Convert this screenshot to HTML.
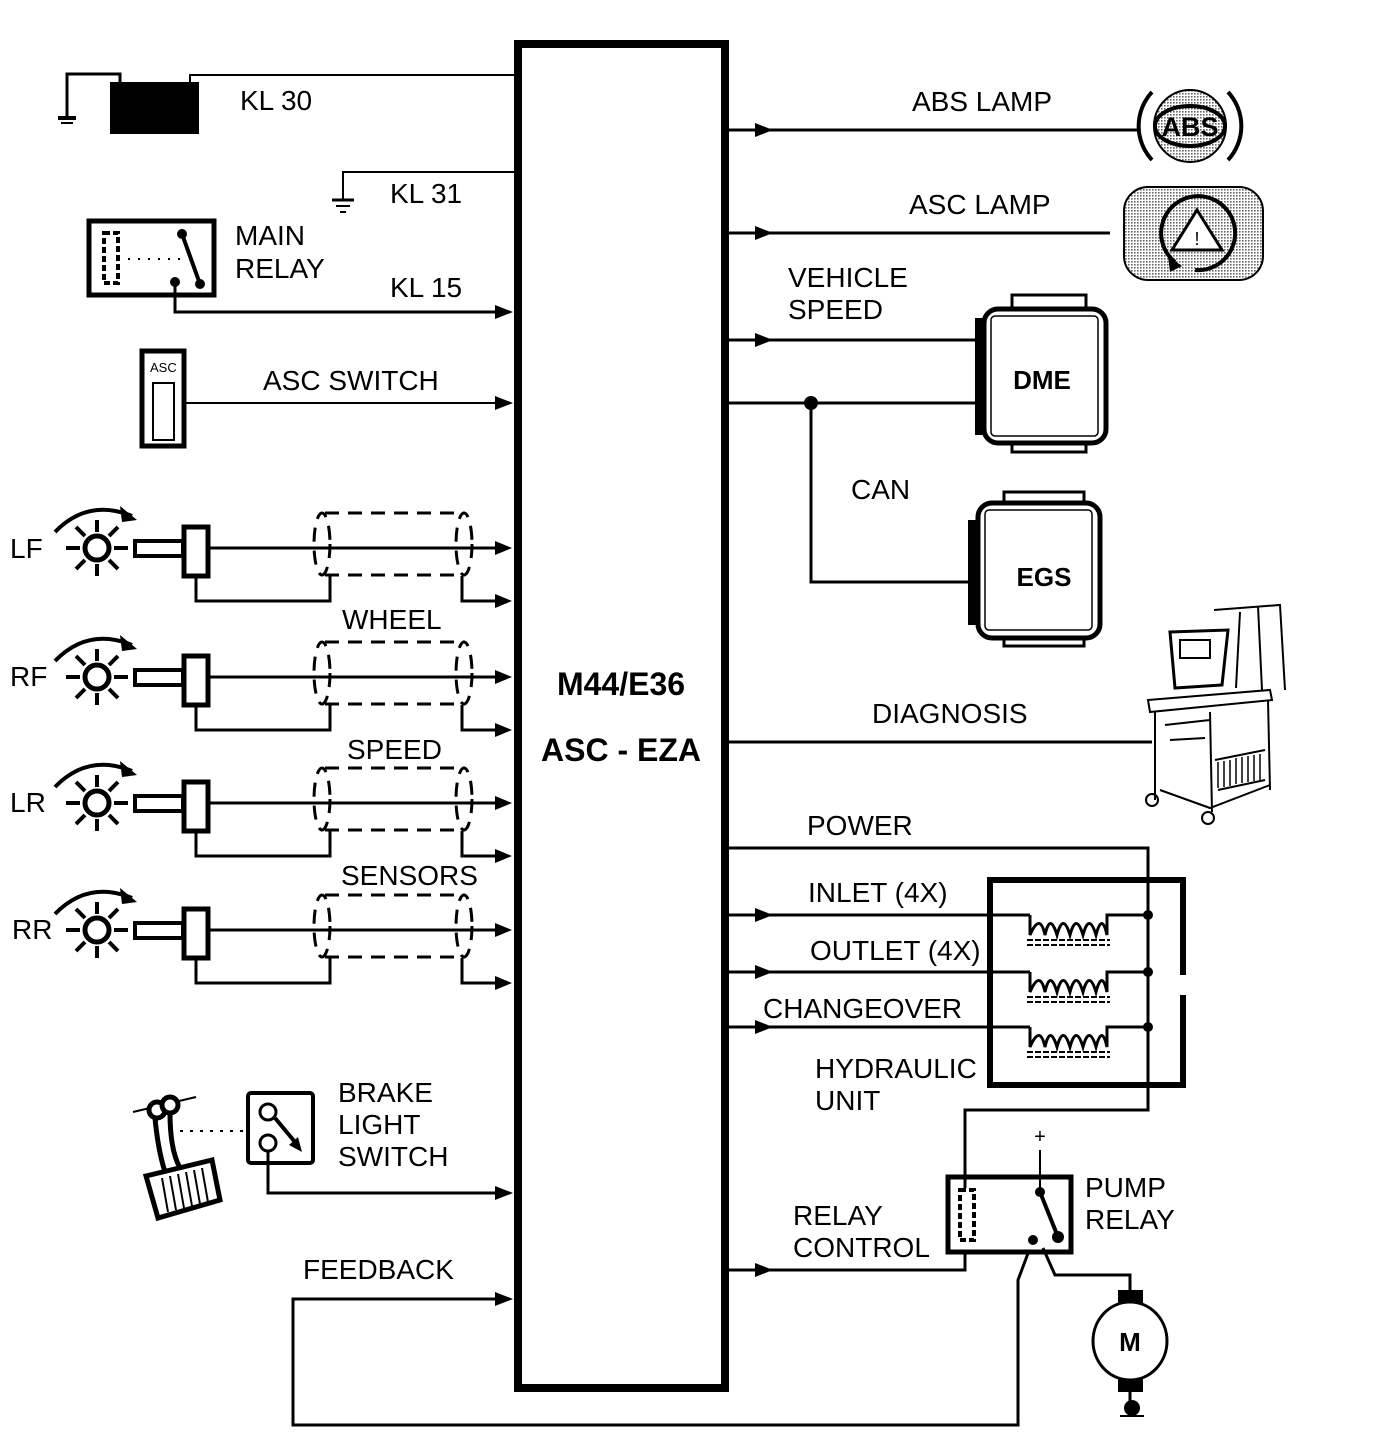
<!DOCTYPE html>
<html><head><meta charset="utf-8"><style>
html,body{margin:0;padding:0;background:#fff;}
svg{display:block;}
text{font-family:"Liberation Sans",sans-serif;font-size:28px;fill:#000;}
.b{font-weight:bold;}
</style></head><body>
<svg width="1376" height="1444" viewBox="0 0 1376 1444" xmlns="http://www.w3.org/2000/svg">
<defs>
<pattern id="dots" width="3" height="3" patternUnits="userSpaceOnUse"><rect width="3" height="3" fill="#fff"/><rect width="1.6" height="1.6" fill="#666"/></pattern>
<g id="row" fill="none" stroke="#000">
 <path d="M55,532 Q88,498 132,516" stroke-width="4"/>
 <polygon points="120,506 137,520 122,522" fill="#000" stroke="none"/>
 <circle cx="97" cy="548" r="12" stroke-width="5" fill="#fff"/>
 <g stroke-width="4">
  <line x1="97" y1="520" x2="97" y2="532"/><line x1="97" y1="564" x2="97" y2="576"/>
  <line x1="66" y1="548" x2="80" y2="548"/><line x1="114" y1="548" x2="128" y2="548"/>
  <line x1="76" y1="527" x2="85" y2="536"/><line x1="109" y1="560" x2="118" y2="569"/>
  <line x1="118" y1="527" x2="109" y2="536"/><line x1="85" y1="560" x2="76" y2="569"/>
 </g>
 <rect x="135" y="541" width="48" height="15" stroke-width="4" fill="#fff"/>
 <rect x="184" y="527" width="24" height="49" stroke-width="5" fill="#fff"/>
 <line x1="208" y1="548" x2="505" y2="548" stroke-width="3"/>
 <polyline points="196,576 196,601 330,601 330,576" stroke-width="3"/>
 <polyline points="462,576 462,601 505,601" stroke-width="3"/>
 <line x1="325" y1="513" x2="465" y2="513" stroke-width="3" stroke-dasharray="14,9"/>
 <line x1="325" y1="575" x2="465" y2="575" stroke-width="3" stroke-dasharray="14,9"/>
 <ellipse cx="322" cy="544" rx="8" ry="31" stroke-width="3" stroke-dasharray="14,9"/>
 <ellipse cx="464" cy="544" rx="8" ry="31" stroke-width="3" stroke-dasharray="14,9"/>
 <polygon points="495,541 512,548 495,555" fill="#000" stroke="none"/>
 <polygon points="495,594 512,601 495,608" fill="#000" stroke="none"/>
</g>
<polygon id="ar" points="-10,-7 8,0 -10,7" fill="#000"/>
</defs>

<!-- main box -->
<rect x="518" y="44" width="207" height="1344" fill="#fff" stroke="#000" stroke-width="8"/>
<text x="621" y="695" text-anchor="middle" class="b" style="font-size:32px">M44/E36</text>
<text x="621" y="761" text-anchor="middle" class="b" style="font-size:32px">ASC - EZA</text>

<!-- battery -->
<g stroke="#000" fill="none" stroke-width="2">
<polyline points="120,82 120,74 67,74 67,118" stroke-width="3"/>
<line x1="58" y1="118" x2="76" y2="118" stroke-width="4"/><line x1="61" y1="123" x2="73" y2="123" stroke-width="2"/>
<polyline points="190,82 190,75 515,75"/>
</g>
<rect x="110" y="82" width="89" height="52" fill="#000"/>
<text x="240" y="110">KL 30</text>

<!-- KL31 -->
<polyline points="515,172 343,172 343,200" fill="none" stroke="#000" stroke-width="2"/>
<line x1="332" y1="200" x2="354" y2="200" stroke="#000" stroke-width="3"/>
<line x1="336" y1="206" x2="350" y2="206" stroke="#000" stroke-width="2"/>
<line x1="340" y1="212" x2="346" y2="212" stroke="#000" stroke-width="2"/>
<text x="390" y="203">KL 31</text>

<!-- main relay -->
<rect x="89" y="221" width="125" height="74" fill="#fff" stroke="#000" stroke-width="5"/>
<rect x="104" y="233" width="14" height="50" fill="none" stroke="#000" stroke-width="4" stroke-dasharray="6,3"/>
<line x1="128" y1="259" x2="185" y2="259" stroke="#000" stroke-width="2" stroke-dasharray="2,8"/>
<line x1="182" y1="234" x2="200" y2="284" stroke="#000" stroke-width="4"/>
<circle cx="182" cy="234" r="5"/><circle cx="200" cy="284" r="5"/><circle cx="175" cy="282" r="5"/>
<polyline points="175,282 175,312 505,312" fill="none" stroke="#000" stroke-width="3"/>
<use href="#ar" x="505" y="312"/>
<text x="235" y="245">MAIN</text><text x="235" y="278">RELAY</text>
<text x="390" y="297">KL 15</text>

<!-- ASC switch -->
<rect x="142" y="351" width="42" height="95" fill="#fff" stroke="#000" stroke-width="5"/>
<text x="150" y="372" style="font-size:13px">ASC</text>
<rect x="153" y="383" width="21" height="57" fill="none" stroke="#000" stroke-width="2"/>
<line x1="184" y1="403" x2="505" y2="403" stroke="#000" stroke-width="2"/>
<use href="#ar" x="505" y="403"/>
<text x="263" y="390">ASC SWITCH</text>

<!-- wheel rows -->
<use href="#row"/>
<use href="#row" y="129"/>
<use href="#row" y="255"/>
<use href="#row" y="382"/>
<text x="10" y="558">LF</text>
<text x="10" y="686">RF</text>
<text x="10" y="812">LR</text>
<text x="12" y="939">RR</text>
<text x="342" y="629">WHEEL</text>
<text x="347" y="759">SPEED</text>
<text x="341" y="885">SENSORS</text>

<!-- brake -->
<line x1="133" y1="1112" x2="196" y2="1097" stroke="#000" stroke-width="2"/>
<circle cx="157" cy="1110" r="8" fill="#fff" stroke="#000" stroke-width="5"/>
<circle cx="170" cy="1105" r="8" fill="#fff" stroke="#000" stroke-width="5"/>
<path d="M155,1118 Q158,1150 165,1172 M170,1113 Q170,1150 180,1168" stroke="#000" stroke-width="5" fill="none"/>
<path d="M146,1176 L212,1160 L220,1200 L158,1218 Z" fill="#fff" stroke="#000" stroke-width="5"/>
<g stroke="#000" stroke-width="2"><line x1="162" y1="1178" x2="168" y2="1212"/><line x1="170" y1="1176" x2="176" y2="1210"/><line x1="178" y1="1174" x2="184" y2="1208"/><line x1="186" y1="1172" x2="192" y2="1206"/><line x1="194" y1="1170" x2="200" y2="1204"/><line x1="202" y1="1168" x2="208" y2="1202"/></g>
<line x1="180" y1="1131" x2="248" y2="1131" stroke="#000" stroke-width="2" stroke-dasharray="3,7"/>
<rect x="248" y="1093" width="65" height="70" rx="3" fill="#fff" stroke="#000" stroke-width="4"/>
<circle cx="268" cy="1112" r="8" fill="#fff" stroke="#000" stroke-width="3"/>
<circle cx="268" cy="1143" r="8" fill="#fff" stroke="#000" stroke-width="3"/>
<line x1="275" y1="1118" x2="295" y2="1142" stroke="#000" stroke-width="4"/>
<polygon points="289,1145 302,1152 298,1137" fill="#000"/>
<polyline points="268,1151 268,1193 505,1193" fill="none" stroke="#000" stroke-width="3"/>
<use href="#ar" x="505" y="1193"/>
<text x="338" y="1102">BRAKE</text><text x="338" y="1134">LIGHT</text><text x="338" y="1166">SWITCH</text>

<!-- feedback -->
<text x="303" y="1279">FEEDBACK</text>
<polyline points="505,1299 293,1299 293,1425 1018,1425 1018,1280 1033,1240" fill="none" stroke="#000" stroke-width="3"/>
<use href="#ar" x="505" y="1299"/>

<!-- right side lines -->
<g stroke="#000" stroke-width="3" fill="none">
<line x1="727" y1="130" x2="1138" y2="130"/>
<line x1="727" y1="233" x2="1110" y2="233"/>
<line x1="727" y1="340" x2="975" y2="340"/>
<line x1="727" y1="403" x2="975" y2="403"/>
<polyline points="811,403 811,582 970,582"/>
<line x1="727" y1="742" x2="1152" y2="742"/>
<polyline points="727,848 1148,848 1148,1110 965,1110 965,1180"/>
<line x1="727" y1="915" x2="1030" y2="915"/>
<line x1="727" y1="972" x2="1030" y2="972"/>
<line x1="727" y1="1027" x2="1030" y2="1027"/>
<polyline points="727,1270 965,1270 965,1250"/>
</g>
<use href="#ar" x="765" y="130"/><use href="#ar" x="765" y="233"/><use href="#ar" x="765" y="340"/>
<use href="#ar" x="765" y="915"/><use href="#ar" x="765" y="972"/><use href="#ar" x="765" y="1027"/><use href="#ar" x="765" y="1270"/>
<circle cx="811" cy="403" r="7"/>

<text x="912" y="111">ABS LAMP</text>
<text x="909" y="214">ASC LAMP</text>
<text x="788" y="287">VEHICLE</text><text x="788" y="319">SPEED</text>
<text x="851" y="499">CAN</text>
<text x="872" y="723">DIAGNOSIS</text>
<text x="807" y="835">POWER</text>
<text x="808" y="902">INLET (4X)</text>
<text x="810" y="960">OUTLET (4X)</text>
<text x="763" y="1018">CHANGEOVER</text>
<text x="815" y="1078">HYDRAULIC</text><text x="815" y="1110">UNIT</text>
<text x="793" y="1225">RELAY</text><text x="793" y="1257">CONTROL</text>
<text x="1085" y="1197">PUMP</text><text x="1085" y="1229">RELAY</text>

<!-- ABS lamp -->
<path d="M1152,92 A50,50 0 0,0 1152,160" fill="none" stroke="#000" stroke-width="4"/>
<path d="M1228,92 A50,50 0 0,1 1228,160" fill="none" stroke="#000" stroke-width="4"/>
<circle cx="1190" cy="126" r="36" fill="url(#dots)" stroke="#000" stroke-width="2"/>
<ellipse cx="1190" cy="126" rx="35" ry="20" fill="none" stroke="#000" stroke-width="4"/>
<text x="1190" y="136" text-anchor="middle" class="b" style="font-size:27px">ABS</text>

<!-- ASC lamp -->
<rect x="1124" y="187" width="139" height="93" rx="24" fill="url(#dots)" stroke="#000" stroke-width="2"/>
<path d="M1175,262 A37,37 0 1,1 1195,270" fill="none" stroke="#000" stroke-width="4"/>
<polygon points="1168,256 1182,266 1170,272" fill="#000"/>
<polygon points="1197,210 1222,250 1172,250" fill="#fff" stroke="#000" stroke-width="3"/>
<text x="1197" y="245" text-anchor="middle" style="font-size:18px">!</text>

<!-- DME -->
<rect x="1012" y="295" width="74" height="14" fill="#fff" stroke="#000" stroke-width="3"/>
<rect x="1012" y="442" width="74" height="10" fill="#fff" stroke="#000" stroke-width="3"/>
<rect x="975" y="318" width="12" height="117" fill="#000"/>
<rect x="984" y="309" width="122" height="134" rx="14" fill="#fff" stroke="#000" stroke-width="5"/>
<rect x="991" y="316" width="107" height="120" rx="4" fill="none" stroke="#000" stroke-width="1.5"/>
<text x="1042" y="389" text-anchor="middle" class="b" style="font-size:26px">DME</text>

<!-- EGS -->
<rect x="1004" y="492" width="80" height="14" fill="#fff" stroke="#000" stroke-width="3"/>
<rect x="1004" y="636" width="80" height="10" fill="#fff" stroke="#000" stroke-width="3"/>
<rect x="968" y="520" width="12" height="105" fill="#000"/>
<rect x="978" y="503" width="122" height="135" rx="14" fill="#fff" stroke="#000" stroke-width="5"/>
<rect x="985" y="510" width="107" height="120" rx="4" fill="none" stroke="#000" stroke-width="1.5"/>
<text x="1044" y="586" text-anchor="middle" class="b" style="font-size:26px">EGS</text>

<!-- diag cart -->
<g fill="none" stroke="#000" stroke-width="2">
<path d="M1170,632 L1228,630 L1222,685 L1175,688 Z" stroke-width="3"/>
<rect x="1180" y="640" width="30" height="18"/>
<path d="M1214,610 L1280,605 L1285,690 M1240,612 L1236,688 M1258,606 L1262,690"/>
<path d="M1148,700 L1270,690 L1272,700 L1150,712 Z"/>
<path d="M1155,712 L1155,800 M1210,712 L1212,812 M1268,700 L1270,790 M1160,790 L1210,808 L1270,785"/>
<path d="M1165,725 L1210,720 M1170,740 L1205,738"/>
<path d="M1215,760 L1265,750 M1218,790 L1265,780"/>
<circle cx="1152" cy="800" r="6"/><circle cx="1208" cy="818" r="6"/>
</g>
<g stroke="#000" stroke-width="1.5"><line x1="1218" y1="762" x2="1218" y2="788"/><line x1="1224" y1="761" x2="1224" y2="787"/><line x1="1230" y1="760" x2="1230" y2="786"/><line x1="1236" y1="758" x2="1236" y2="784"/><line x1="1242" y1="757" x2="1242" y2="783"/><line x1="1248" y1="756" x2="1248" y2="782"/><line x1="1254" y1="755" x2="1254" y2="781"/><line x1="1260" y1="754" x2="1260" y2="780"/></g>

<!-- hydraulic unit -->
<path d="M1183,995 L1183,1085 L990,1085 L990,880 L1183,880 L1183,975" fill="none" stroke="#000" stroke-width="6"/>
<line x1="1148" y1="848" x2="1148" y2="1110" stroke="#000" stroke-width="3"/>
<g fill="none" stroke="#000" stroke-width="3">
<path d="M1030,915 L1030,935 Q1040,912 1045,935 Q1050,912 1057,935 Q1063,912 1070,935 Q1076,912 1083,935 Q1089,912 1096,935 Q1102,912 1107,935 L1107,915 L1148,915"/>
<path d="M1030,972 L1030,992 Q1040,969 1045,992 Q1050,969 1057,992 Q1063,969 1070,992 Q1076,969 1083,992 Q1089,969 1096,992 Q1102,969 1107,992 L1107,972 L1148,972"/>
<path d="M1030,1027 L1030,1047 Q1040,1024 1045,1047 Q1050,1024 1057,1047 Q1063,1024 1070,1047 Q1076,1024 1083,1047 Q1089,1024 1096,1047 Q1102,1024 1107,1047 L1107,1027 L1148,1027"/>
</g>
<g stroke="#000" stroke-width="2" stroke-dasharray="6,2">
<line x1="1027" y1="940" x2="1110" y2="940"/><line x1="1027" y1="945" x2="1110" y2="945"/>
<line x1="1027" y1="997" x2="1110" y2="997"/><line x1="1027" y1="1002" x2="1110" y2="1002"/>
<line x1="1027" y1="1052" x2="1110" y2="1052"/><line x1="1027" y1="1057" x2="1110" y2="1057"/>
</g>
<circle cx="1148" cy="915" r="5"/><circle cx="1148" cy="972" r="5"/><circle cx="1148" cy="1027" r="5"/>

<!-- pump relay -->
<rect x="948" y="1177" width="123" height="75" fill="#fff" stroke="#000" stroke-width="5"/>
<rect x="960" y="1190" width="14" height="50" fill="none" stroke="#000" stroke-width="4" stroke-dasharray="6,3"/>
<line x1="965" y1="1110" x2="965" y2="1188" stroke="#000" stroke-width="3"/>
<text x="1040" y="1143" text-anchor="middle" style="font-size:20px">+</text>
<line x1="1040" y1="1150" x2="1040" y2="1190" stroke="#000" stroke-width="2"/>
<circle cx="1040" cy="1192" r="5"/><circle cx="1058" cy="1237" r="6"/><circle cx="1033" cy="1240" r="5"/>
<line x1="1040" y1="1192" x2="1058" y2="1237" stroke="#000" stroke-width="4"/>
<polyline points="1043,1248 1055,1275 1130,1275 1130,1292" fill="none" stroke="#000" stroke-width="3"/>

<!-- motor -->
<rect x="1118" y="1290" width="25" height="15" fill="#000"/>
<rect x="1118" y="1377" width="25" height="15" fill="#000"/>
<ellipse cx="1130" cy="1341" rx="37" ry="39" fill="#fff" stroke="#000" stroke-width="3"/>
<text x="1130" y="1351" text-anchor="middle" class="b" style="font-size:26px">M</text>
<line x1="1130" y1="1392" x2="1130" y2="1405" stroke="#000" stroke-width="3"/>
<circle cx="1132" cy="1408" r="8"/>
<line x1="1120" y1="1416" x2="1144" y2="1416" stroke="#000" stroke-width="2"/>
</svg>
</body></html>
